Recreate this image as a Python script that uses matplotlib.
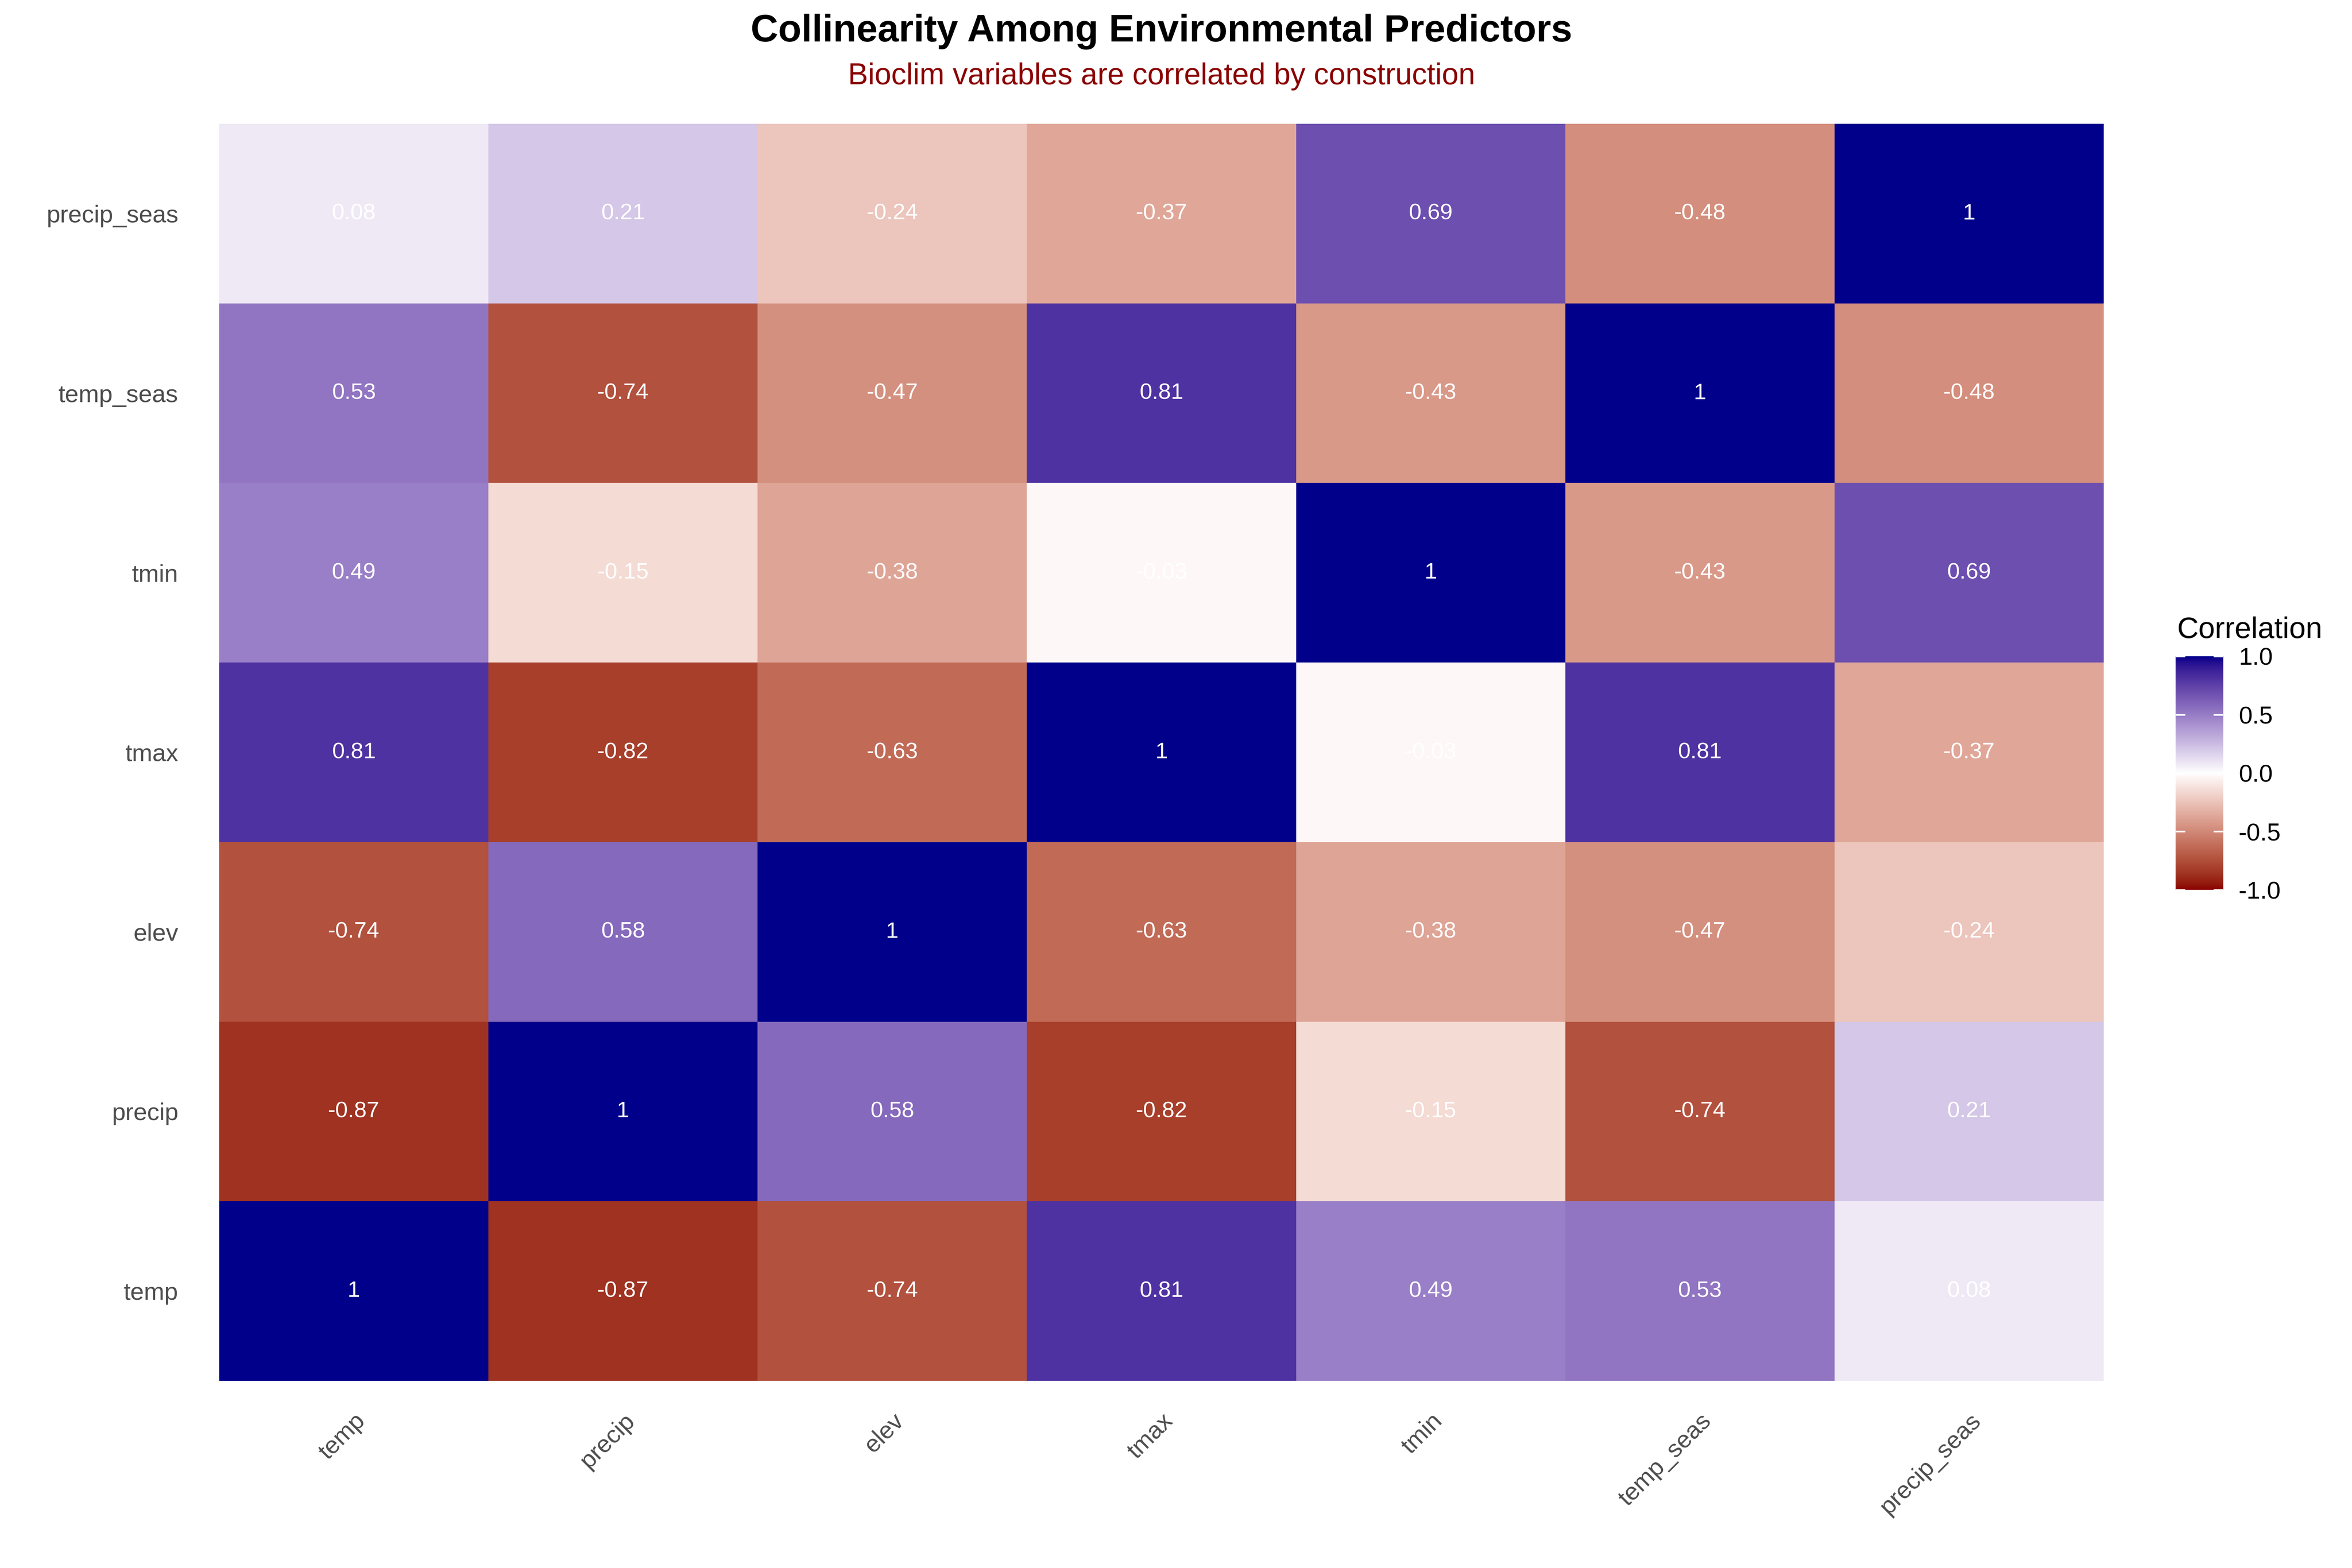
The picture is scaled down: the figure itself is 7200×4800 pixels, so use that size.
import numpy as np
import matplotlib
matplotlib.use("Agg")
import matplotlib.pyplot as plt
from matplotlib.colors import ListedColormap, Normalize

# ---------------- data ----------------
variables = ["temp", "precip", "elev", "tmax", "tmin", "temp_seas", "precip_seas"]
corr_temp = [1, -0.87, -0.74, 0.81, 0.49, 0.53, 0.08]
corr_precip = [-0.87, 1, 0.58, -0.82, -0.15, -0.74, 0.21]
corr_elev = [-0.74, 0.58, 1, -0.63, -0.38, -0.47, -0.24]
corr_tmax = [0.81, -0.82, -0.63, 1, -0.03, 0.81, -0.37]
corr_tmin = [0.49, -0.15, -0.38, -0.03, 1, -0.43, 0.69]
corr_temp_seas = [0.53, -0.74, -0.47, 0.81, -0.43, 1, -0.48]
corr_precip_seas = [0.08, 0.21, -0.24, -0.37, 0.69, -0.48, 1]
legend_ticks = [-1.0, -0.5, 0.0, 0.5, 1.0]

title = "Collinearity Among Environmental Predictors"
subtitle = "Bioclim variables are correlated by construction"
legend_title = "Correlation"

M = np.array([corr_temp, corr_precip, corr_elev, corr_tmax, corr_tmin,
              corr_temp_seas, corr_precip_seas], dtype=float)

# ---------------- Lab gradient (like ggplot2 scale_fill_gradient2) ----------------
def srgb_to_lab(rgb):
    rgb = np.asarray(rgb, dtype=float)
    lin = np.where(rgb <= 0.04045, rgb / 12.92, ((rgb + 0.055) / 1.055) ** 2.4)
    Mx = np.array([[0.4124564, 0.3575761, 0.1804375],
                   [0.2126729, 0.7151522, 0.0721750],
                   [0.0193339, 0.1191920, 0.9503041]])
    xyz = Mx @ lin
    wp = np.array([0.95047, 1.0, 1.08883])
    t = xyz / wp
    d = 6 / 29
    f = np.where(t > d ** 3, np.cbrt(t), t / (3 * d * d) + 4 / 29)
    L = 116 * f[1] - 16
    a = 500 * (f[0] - f[1])
    b = 200 * (f[1] - f[2])
    return np.array([L, a, b])

def lab_to_srgb(lab):
    L, a, b = lab
    fy = (L + 16) / 116
    fx = fy + a / 500
    fz = fy - b / 200
    d = 6 / 29
    def finv(f):
        return np.where(f > d, f ** 3, 3 * d * d * (f - 4 / 29))
    wp = np.array([0.95047, 1.0, 1.08883])
    xyz = np.array([finv(fx), finv(fy), finv(fz)]) * wp
    Minv = np.array([[3.2404542, -1.5371385, -0.4985314],
                     [-0.9692660, 1.8760108, 0.0415560],
                     [0.0556434, -0.2040259, 1.0572252]])
    lin = Minv @ xyz
    lin = np.clip(lin, 0, 1)
    rgb = np.where(lin <= 0.0031308, 12.92 * lin, 1.055 * lin ** (1 / 2.4) - 0.055)
    return np.clip(rgb, 0, 1)

low = srgb_to_lab(np.array([0x8B, 0, 0]) / 255)
mid = srgb_to_lab(np.array([1.0, 1.0, 1.0]))
high = srgb_to_lab(np.array([0, 0, 0x8B]) / 255)
N = 512
cols = []
for t in np.linspace(0, 1, N):
    if t <= 0.5:
        lab = low + (mid - low) * (t / 0.5)
    else:
        lab = mid + (high - mid) * ((t - 0.5) / 0.5)
    cols.append(lab_to_srgb(lab))
cmap = ListedColormap(np.array(cols))
norm = Normalize(vmin=-1, vmax=1)

# ---------------- figure ----------------
plt.rcParams["font.family"] = ["Liberation Sans", "DejaVu Sans"]
W, H = 7200, 4800
fig = plt.figure(figsize=(24, 16), dpi=300)

px_l, px_r, px_t, px_b = 671, 6440, 379, 4227
ax = fig.add_axes([px_l / W, 1 - px_b / H, (px_r - px_l) / W, (px_b - px_t) / H])
n = len(variables)
ax.pcolormesh(np.arange(n + 1) - 0.5, np.arange(n + 1) - 0.5, M, cmap=cmap, norm=norm,
              shading="flat", edgecolor="none", antialiased=False)
ax.set_xlim(-0.5, n - 0.5)
ax.set_ylim(-0.5, n - 0.5)
for i in range(n):
    for j in range(n):
        v = round(M[i, j], 2)
        ax.text(j, i, f"{v:g}", ha="center", va="center", color="white", fontsize=16.6)

for s in ax.spines.values():
    s.set_visible(False)
ax.set_xticks(range(n))
ax.set_yticks(range(n))
ax.set_xticklabels(variables)
ax.set_yticklabels(variables)
ax.tick_params(axis="both", length=0, labelsize=18, labelcolor="#4D4D4D")
ax.tick_params(axis="y", pad=30)
ax.tick_params(axis="x", pad=21)
plt.setp(ax.get_xticklabels(), rotation=45, ha="right", rotation_mode="anchor")

# titles
cx = (px_l + px_r) / 2 / W
fig.text(cx, 1 - 127 / H, title, ha="center", va="baseline", fontsize=28,
         fontweight="bold", color="black")
fig.text(cx, 1 - 258 / H, subtitle, ha="center", va="baseline", fontsize=22,
         color="#8B0000")

# colorbar
cb_l, cb_r, cb_t, cb_b = 6660, 6805, 2009, 2724
cax = fig.add_axes([cb_l / W, 1 - cb_b / H, (cb_r - cb_l) / W, (cb_b - cb_t) / H])
grad = np.linspace(-1, 1, 400).reshape(-1, 1)
cax.imshow(grad, cmap=cmap, norm=norm, origin="lower", aspect="auto",
           extent=(0, 1, -1, 1), interpolation="bilinear")
cax.set_xlim(0, 1)
cax.set_ylim(-1, 1)
for t in legend_ticks:
    cax.plot([0, 0.2], [t, t], color="white", lw=1.2, solid_capstyle="butt")
    cax.plot([0.8, 1], [t, t], color="white", lw=1.2, solid_capstyle="butt")
for s in cax.spines.values():
    s.set_visible(False)
cax.set_xticks([])
cax.yaxis.tick_right()
cax.set_yticks(legend_ticks)
cax.set_yticklabels([f"{t:.1f}" for t in legend_ticks])
cax.tick_params(axis="y", length=0, pad=11.5, labelsize=18, labelcolor="black")
fig.text(6664 / W, 1 - 1953 / H, legend_title, ha="left", va="baseline",
         fontsize=21.8, color="black")

fig.savefig("out.png", dpi=300, facecolor="white")
